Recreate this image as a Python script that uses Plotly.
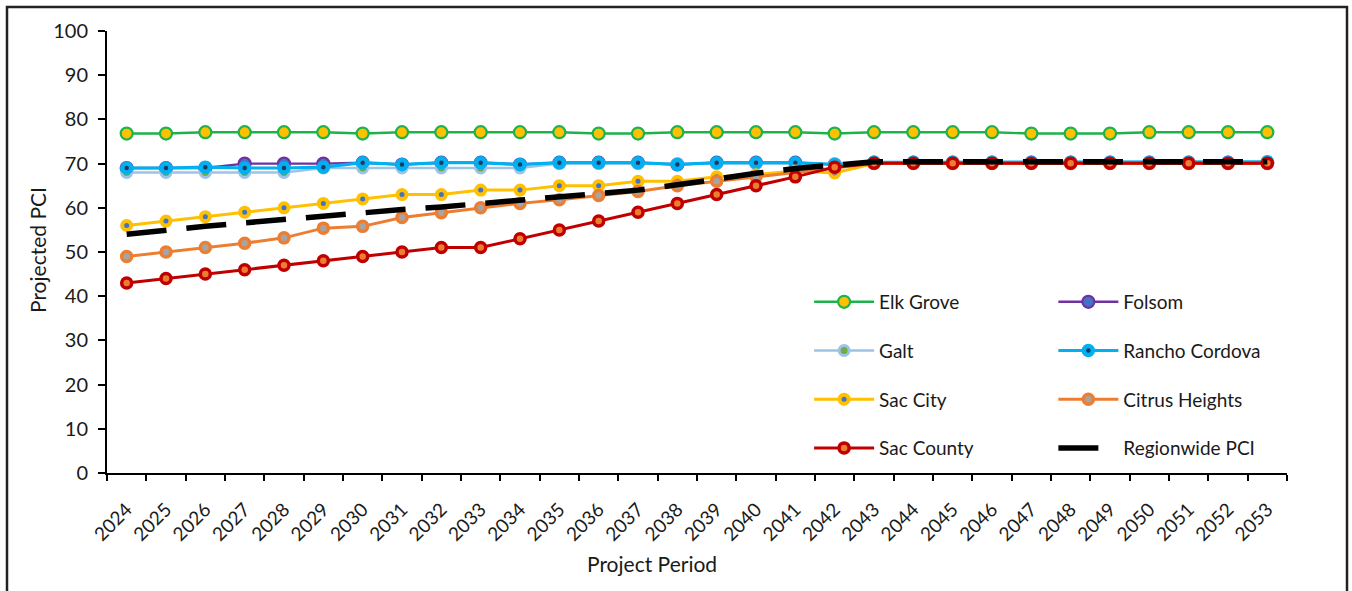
import plotly.graph_objects as go

# Project years (categories on the x axis)
years = [str(y) for y in range(2024, 2054)]

# Projected PCI by jurisdiction
elk_grove = [76.8, 76.8, 77.1, 77.1, 77.1, 77.1, 76.8, 77.1, 77.1, 77.1,
             77.1, 77.1, 76.8, 76.8, 77.1, 77.1, 77.1, 77.1, 76.8, 77.1,
             77.1, 77.1, 77.1, 76.8, 76.8, 76.8, 77.1, 77.1, 77.1, 77.1]
folsom = [69, 69, 69, 70, 70, 70, 70.2, 69.8, 70.2, 70.2,
          69.8, 70.2, 70.2, 70.2, 69.8, 70.2, 70.2, 70.2, 69.8, 70.2,
          70.2, 70.2, 70.2, 70.2, 70.2, 70.2, 70.2, 70.2, 70.2, 70.2]
galt = [68, 68, 68, 68, 68, 69, 69, 69, 69, 69,
        69, 70, 70, 70, 70, 70, 70, 70, 70, 70,
        70, 70, 70, 70, 70, 70, 70, 70, 70, 70]
rancho_cordova = [69, 69, 69.2, 69, 69, 69.2, 70.2, 69.8, 70.2, 70.2,
                  69.8, 70.2, 70.2, 70.2, 69.8, 70.2, 70.2, 70.2, 69.8, 70.3,
                  70.3, 70.3, 70.3, 70.3, 70.3, 70.3, 70.3, 70.3, 70.3, 70.4]
sac_city = [56, 57, 58, 59, 60, 61, 62, 63, 63, 64,
            64, 65, 65, 66, 66, 67, 67.5, 68.3, 67.9, 70,
            70, 70, 70, 70, 70, 70, 70, 70, 70, 70]
citrus_heights = [49, 50, 51, 52, 53.2, 55.4, 55.8, 57.8, 58.9, 60,
                  61, 61.8, 62.8, 63.7, 65, 66, 67, 68, 69, 70,
                  70, 70, 70, 70, 70, 70, 70, 70, 70, 70]
sac_county = [43, 44, 45, 46, 47, 48, 49, 50, 51, 51,
              53, 55, 57, 59, 61, 63, 65, 67, 69.2, 70.1,
              70.1, 70.1, 70.1, 70.1, 70.1, 70.1, 70.1, 70.1, 70.1, 70.1]
regionwide = [54, 55, 55.8, 56.6, 57.4, 58.2, 59, 59.6, 60.2, 60.9,
              61.6, 62.4, 63.2, 64.0, 65.2, 66.6, 67.8, 68.9, 69.7, 70.4,
              70.4, 70.4, 70.4, 70.4, 70.4, 70.4, 70.4, 70.4, 70.4, 70.4]

FONT = "Lato"
TXT = "#1a1a1a"

series = [
    # name, values, line colour, marker fill, marker size, outline width, line width, legend
    ("Elk Grove", elk_grove, "#1DB24B", "#FFC000", 12, 2.2, 2.4, "legend"),
    ("Folsom", folsom, "#7030A0", "#4472C4", 12, 2.2, 2.4, "legend2"),
    ("Galt", galt, "#9DC3E6", "#70AD47", 10, 3.0, 2.4, "legend"),
    ("Rancho Cordova", rancho_cordova, "#00B0F0", "#203864", 9, 4.5, 3.2, "legend2"),
    ("Sac City", sac_city, "#FFC000", "#4472C4", 9, 4.0, 3.0, "legend"),
    ("Citrus Heights", citrus_heights, "#ED7D31", "#A5A5A5", 10, 3.5, 3.0, "legend2"),
    ("Sac County", sac_county, "#C00000", "#ED7D31", 10, 3.5, 3.0, "legend"),
]

fig = go.Figure()
for name, vals, lc, fc, ms, mw, lw, lg in series:
    fig.add_trace(go.Scatter(
        x=years, y=vals, name=name, mode="lines+markers",
        line=dict(color=lc, width=lw),
        marker=dict(size=ms, color=fc, line=dict(color=lc, width=mw)),
        legend=lg, legendgroup=name,
    ))

fig.add_trace(go.Scatter(
    x=years, y=regionwide, name="Regionwide PCI", mode="lines",
    line=dict(color="black", width=5.5, dash="40px,20px"),
    legend="legend2", legendgroup="Regionwide PCI",
))

legend_common = dict(
    orientation="v", yanchor="top", xanchor="left",
    bgcolor="rgba(0,0,0,0)", borderwidth=0,
    font=dict(family=FONT, size=19, color=TXT),
    itemwidth=60, tracegroupgap=21, traceorder="grouped",
)

fig.update_layout(
    width=1352, height=591,
    margin=dict(l=107, r=65, t=31, b=118),
    paper_bgcolor="white", plot_bgcolor="white",
    font=dict(family=FONT, size=19, color=TXT),
    showlegend=True,
    legend=dict(x=0.595, y=0.43, **legend_common),
    legend2=dict(x=0.802, y=0.43, **legend_common),
    xaxis=dict(
        type="category", range=[-0.5, 29.5],
        showline=True, linecolor="black", linewidth=2,
        ticks="outside", ticklen=6, tickwidth=2, tickcolor="black",
        tickson="boundaries", tickangle=-45, ticklabelstandoff=16,
        tickfont=dict(family=FONT, size=19, color=TXT),
        showgrid=False, zeroline=False,
    ),
    xaxis2=dict(
        overlaying="x", anchor="y", side="bottom",
        range=[-0.5, 29.5], tick0=-0.5, dtick=1,
        ticks="inside", ticklen=6, tickwidth=2, tickcolor="black",
        showticklabels=False, showline=False, showgrid=False, zeroline=False,
    ),
    yaxis=dict(
        range=[0, 100], dtick=10,
        showline=True, linecolor="black", linewidth=2,
        ticks="outside", ticklen=7, tickwidth=2, tickcolor="black",
        ticklabelstandoff=6,
        tickfont=dict(family=FONT, size=20, color=TXT),
        showgrid=False, zeroline=False,
    ),
    yaxis2=dict(
        overlaying="y", anchor="x", side="left",
        range=[0, 100], dtick=10,
        ticks="inside", ticklen=6, tickwidth=2, tickcolor="black",
        showticklabels=False, showline=False, showgrid=False, zeroline=False,
    ),
)

# Axis titles
fig.add_annotation(text="Projected PCI", xref="paper", yref="paper",
                   x=(37 - 107) / 1180, y=(473 - 250) / 442, textangle=-90,
                   xanchor="center", yanchor="middle",
                   showarrow=False, font=dict(family=FONT, size=21, color=TXT))
fig.add_annotation(text="Project Period", xref="paper", yref="paper",
                   x=(652 - 107) / 1180, y=(473 - 563) / 442,
                   xanchor="center", yanchor="middle",
                   showarrow=False, font=dict(family=FONT, size=21, color=TXT))

# Chart frame
fig.add_shape(type="rect", xref="paper", yref="paper",
              x0=(7 - 107) / 1180, x1=(1347 - 107) / 1180,
              y0=(473 - 610) / 442, y1=(473 - 7) / 442,
              line=dict(color="#222", width=2.5), fillcolor="rgba(0,0,0,0)", layer="below")

fig.write_html("out.html")
